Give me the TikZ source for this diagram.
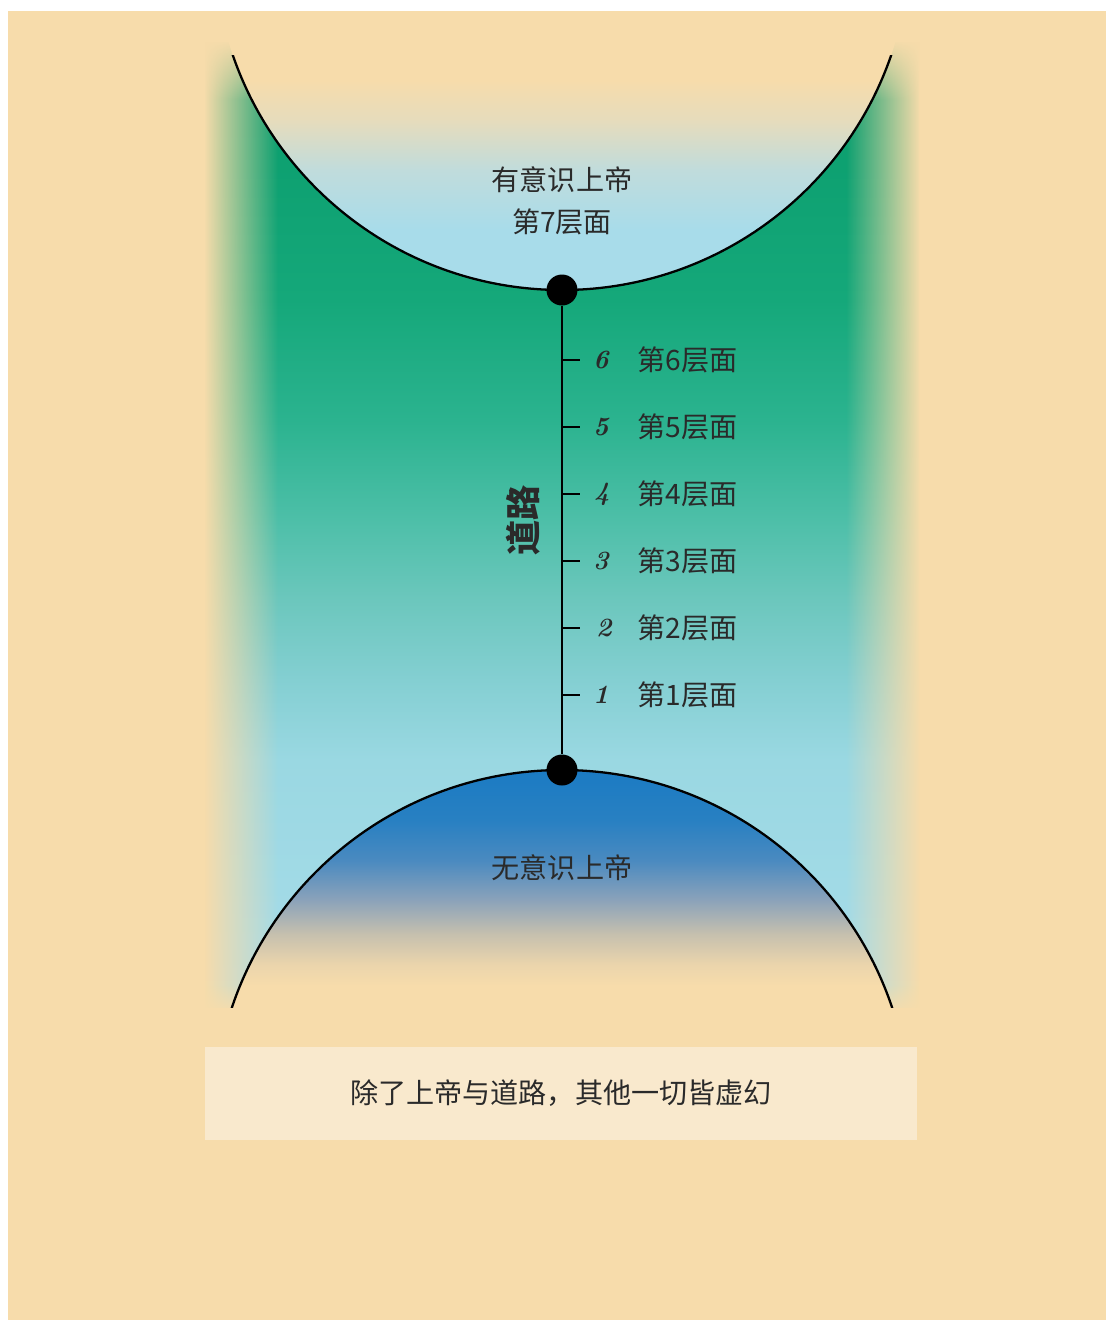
\documentclass[tikz,border=0pt]{standalone}
\usepackage{fontspec}
\usepackage{tikz}
\usetikzlibrary{positioning,fadings}
\newfontfamily\cjk{Noto Sans CJK SC}

\definecolor{sand}{HTML}{F7DCAB}
\definecolor{cream}{HTML}{F9E9CD}
\definecolor{ink}{HTML}{2A2A2A}
\definecolor{gA}{HTML}{0E9C6C}
\definecolor{gB}{HTML}{0DA070}
\definecolor{gC}{HTML}{15A87A}
\definecolor{gD}{HTML}{2BB38F}
\definecolor{gE}{HTML}{4DBFA8}
\definecolor{gF}{HTML}{6CC7BD}
\definecolor{gG}{HTML}{84CFD2}
\definecolor{gH}{HTML}{9AD8E2}
\definecolor{sky}{HTML}{A8DCEA}
\definecolor{skyB}{HTML}{C0DCDC}
\definecolor{skyC}{HTML}{E6DCBC}
\definecolor{bA}{HTML}{1B7BC3}
\definecolor{bB}{HTML}{2880C2}
\definecolor{bC}{HTML}{4A8AC0}
\definecolor{bD}{HTML}{8AA2BA}
\definecolor{bE}{HTML}{C6C0AE}
\definecolor{bF}{HTML}{EBD5AC}

\pgfdeclareverticalshading{roadband}{100bp}{color(0bp)=(sky); color(25bp)=(sky); color(38bp)=(gH); color(42.1bp)=(gG); color(46.2bp)=(gF); color(50.4bp)=(gE); color(55.5bp)=(gD); color(61.7bp)=(gC); color(69.4bp)=(gB); color(75bp)=(gA); color(100bp)=(gA)}
\pgfdeclareverticalshading{uppercap}{100bp}{color(0bp)=(sky); color(25bp)=(sky); color(29.3bp)=(sky); color(33.6bp)=(skyB); color(37.2bp)=(skyC); color(40.1bp)=(sand); color(100bp)=(sand)}
\pgfdeclareverticalshading{lowercap}{100bp}{color(0bp)=(sand); color(59.5bp)=(sand); color(61bp)=(bF); color(63.2bp)=(bE); color(65.7bp)=(bD); color(68.5bp)=(bC); color(71.4bp)=(bB); color(75bp)=(bA); color(100bp)=(bA)}

\tikzfading[name=fadeleft, left color=transparent!0, right color=transparent!100]
\tikzfading[name=faderight, left color=transparent!100, right color=transparent!0]
\tikzfading[name=fadetop, top color=transparent!0, bottom color=transparent!100]
\tikzfading[name=fadebottom, top color=transparent!100, bottom color=transparent!0]

\begin{document}
\begin{tikzpicture}[x=0.02cm, y=-0.02cm,
    txt/.style={font=\cjk\fontsize{16}{24}\selectfont, text=ink, inner sep=0pt},
    lvl/.style={txt, anchor=west},
    num/.style={font=\bfseries\itshape\fontsize{15}{16}\selectfont, text=ink, inner sep=0pt},
    dot/.style={circle, fill=black, inner sep=0pt, minimum size=0.62cm},
    road/.style={draw=black, line width=1.6pt},
    rim/.style={draw=black, line width=1.3pt},
    mottobox/.style={fill=cream, minimum width=14.24cm, minimum height=1.86cm, inner sep=0pt}]
    \useasboundingbox (0,0) rectangle (1106,1320);
    \fill[white] (0,0) rectangle (1106,1320);
    \fill[sand] (8,11) rectangle (1106,1320);

    % the coloured band and its soft edges
    \shade[shading=roadband] (205,42) rectangle (919,1012);
    \fill[sand, path fading=fadeleft] (204,42) rectangle (278,1012);
    \fill[sand, path fading=faderight] (846,42) rectangle (920,1012);
    \fill[sand, path fading=fadetop] (204,40) rectangle (920,100);
    \fill[sand, path fading=fadebottom] (204,985) rectangle (920,1013);

    % upper god
    \begin{scope}
      \clip (150,38) rectangle (960,300);
      \shade[shading=uppercap] (562,-58) circle[radius=348];
    \end{scope}
    \begin{scope}
      \clip (150,55) rectangle (960,300);
      \path[rim] (562,-58) circle[radius=348];
    \end{scope}
    % lower god
    \begin{scope}
      \clip (150,760) rectangle (960,1008);
      \shade[shading=lowercap] (562,1118) circle[radius=348];
      \path[rim] (562,1118) circle[radius=348];
    \end{scope}
    \fill[sand] (150,1008) rectangle (960,1016);

    \node[dot] (top) at (562,290) {};
    \node[dot] (bottom) at (562,770) {};
    \path[road] (top)--(bottom);

    \node[txt, align=center] (upper) at (562,201) {有意识上帝\\第7层面};
    \node[txt] (lower) at (562,868) {无意识上帝};
    \node[txt, font=\cjk\bfseries\fontsize{20}{20}\selectfont, rotate=90] (dao) at (523,520) {道路};

    % levels
    \coordinate (l6) at (562,360);
    \coordinate (l5) at (562,427);
    \coordinate (l4) at (562,494);
    \coordinate (l3) at (562,561);
    \coordinate (l2) at (562,628);
    \coordinate (l1) at (562,695);
    \path[road] (l6)--++(18,0);
    \path[road] (l5)--++(18,0);
    \path[road] (l4)--++(18,0);
    \path[road] (l3)--++(18,0);
    \path[road] (l2)--++(18,0);
    \path[road] (l1)--++(18,0);
    \node[num] (n6) at (601,360) {6};
    \node[num] (n5) at (601,427) {5};
    \node[num] (n4) at (602,494) {4};
    \node[num] (n3) at (601,561) {3};
    \node[num] (n2) at (604,628) {2};
    \node[num] (n1) at (601,695) {1};
    \node[lvl] (t6) at (637,360) {第6层面};
    \node[lvl] (t5) at (637,427) {第5层面};
    \node[lvl] (t4) at (637,494) {第4层面};
    \node[lvl] (t3) at (637,561) {第3层面};
    \node[lvl] (t2) at (637,628) {第2层面};
    \node[lvl] (t1) at (637,695) {第1层面};

    \node[mottobox] (motto) at (561,1093) {};
    \node[txt] (mottotext) at (motto.center) {除了上帝与道路，其他一切皆虚幻};
\end{tikzpicture}
\end{document}
